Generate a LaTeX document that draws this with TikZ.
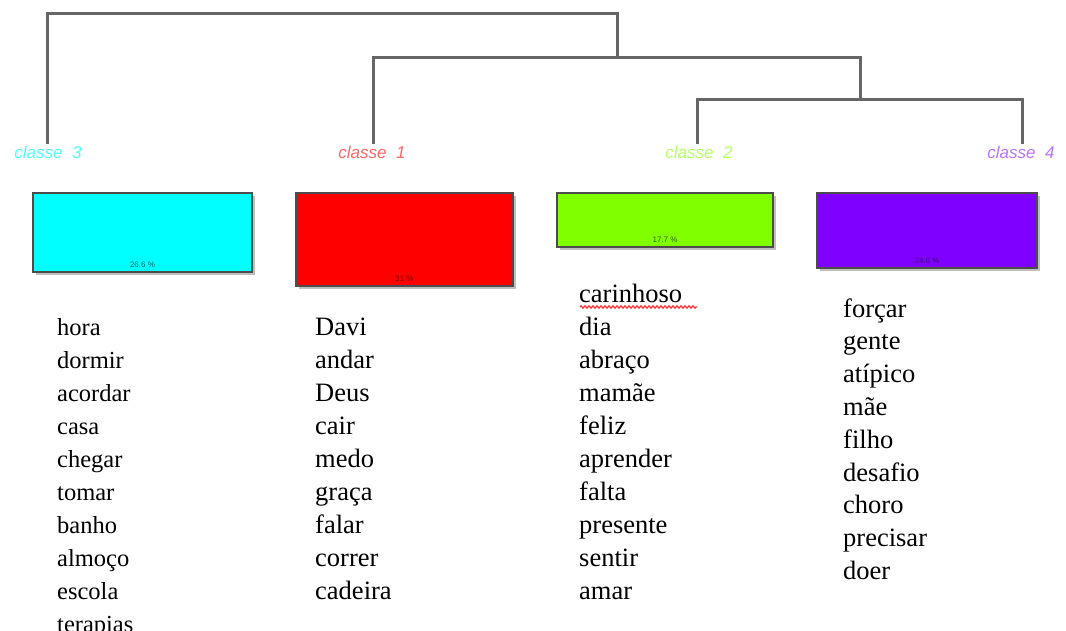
\documentclass[tikz,border=0pt]{standalone}
\usepackage{fontspec}
\setmainfont{Liberation Serif}
\newfontfamily\labelfont{Liberation Sans}
\usetikzlibrary{decorations.pathmorphing}
\definecolor{cthree}{HTML}{00FFFF}
\definecolor{cone}{HTML}{FF0000}
\definecolor{ctwo}{HTML}{80FF00}
\definecolor{cfour}{HTML}{8000FF}
\definecolor{branch}{HTML}{666666}
\tikzset{
  x=1pt, y=-1pt,
  branchline/.style={draw=branch, line width=3pt, line cap=rect},
  classlabel/.style={font=\labelfont\itshape\fontsize{17}{17}\selectfont, inner sep=0pt, anchor=base},
  classbox/.style={draw=black!70, line width=1.6pt},
  boxshadow/.style={fill=black!25},
  pct/.style={font=\labelfont\fontsize{8}{8}\selectfont, inner sep=0pt, anchor=base},
  word/.style={inner sep=0pt, anchor=base west},
}
\begin{document}
\begin{tikzpicture}
\useasboundingbox (0,0) rectangle (1066,631);

% leaf ends of the dendrogram
\coordinate (l3) at (47,143);
\coordinate (l1) at (373,143);
\coordinate (l2) at (697,143);
\coordinate (l4) at (1022,143);
% joins
\coordinate (j24a) at (697,100);
\coordinate (j24b) at (1022,100);
\coordinate (j24) at (860,100);
\coordinate (j124a) at (373,58);
\coordinate (j124b) at (860,58);
\coordinate (j124) at (617,58);
\coordinate (rootA) at (47,14);
\coordinate (rootB) at (617,14);

\draw[branchline] (l2) -- (j24a) -- (j24b) -- (l4);
\draw[branchline] (j24) -- (j124b);
\draw[branchline] (l1) -- (j124a) -- (j124b);
\draw[branchline] (j124) -- (rootB);
\draw[branchline] (l3) -- (rootA) -- (rootB);

% class labels
\node[classlabel, text=cthree!70] (lab3) at (48,159) {classe\ \ 3};
\node[classlabel, text=cone!60] (lab1) at (372,159) {classe\ \ 1};
\node[classlabel, text=ctwo!60] (lab2) at (699,159) {classe\ \ 2};
\node[classlabel, text=cfour!55] (lab4) at (1021,159) {classe\ \ 4};

% class boxes with shadow
\fill[boxshadow] (36,196) rectangle (255,275);
\draw[classbox, fill=cthree] (33,193) rectangle (252,272);
\node[pct, text=cthree!40!black] (p3) at (142.5,268) {26.6 \%};

\fill[boxshadow] (299,196) rectangle (516,289);
\draw[classbox, fill=cone] (296,193) rectangle (513,286);
\node[pct, text=cone!50!black] (p1) at (404.5,282) {31 \%};

\fill[boxshadow] (560,196) rectangle (776,250);
\draw[classbox, fill=ctwo] (557,193) rectangle (773,247);
\node[pct, text=ctwo!40!black] (p2) at (665,243) {17.7 \%};

\fill[boxshadow] (820,196) rectangle (1040,271);
\draw[classbox, fill=cfour] (817,193) rectangle (1037,268);
\node[pct, text=cfour!50!black] (p4) at (927,264) {24.6 \%};

% word lists, one word per line, 33 units apart
\foreach \w [count=\i] in {hora,dormir,acordar,casa,chegar,tomar,banho,almoço,escola,terapias}
  \node[word, font=\fontsize{24.5}{24.5}\selectfont] (w3-\i) at (57,{335+33*(\i-1)}) {\w};
\foreach \w [count=\i] in {Davi,andar,Deus,cair,medo,graça,falar,correr,cadeira}
  \node[word, font=\fontsize{26.5}{26.5}\selectfont] (w1-\i) at (315,{335+33*(\i-1)}) {\w};
\foreach \w [count=\i] in {carinhoso,dia,abraço,mamãe,feliz,aprender,falta,presente,sentir,amar}
  \node[word, font=\fontsize{26.5}{26.5}\selectfont] (w2-\i) at (579,{302+33*(\i-1)}) {\w};
\foreach \w [count=\i] in {forçar,gente,atípico,mãe,filho,desafio,choro,precisar,doer}
  \node[word, font=\fontsize{26.5}{26.5}\selectfont] (w4-\i) at (843,{317+32.8*(\i-1)}) {\w};

% spell-check squiggle under the first word of class 2
\draw[red!80, line width=1.2pt, decorate,
      decoration={zigzag, segment length=4pt, amplitude=1.2pt}]
  (w2-1.base west) ++(1,5) -- ++(117,0);
\end{tikzpicture}
\end{document}
